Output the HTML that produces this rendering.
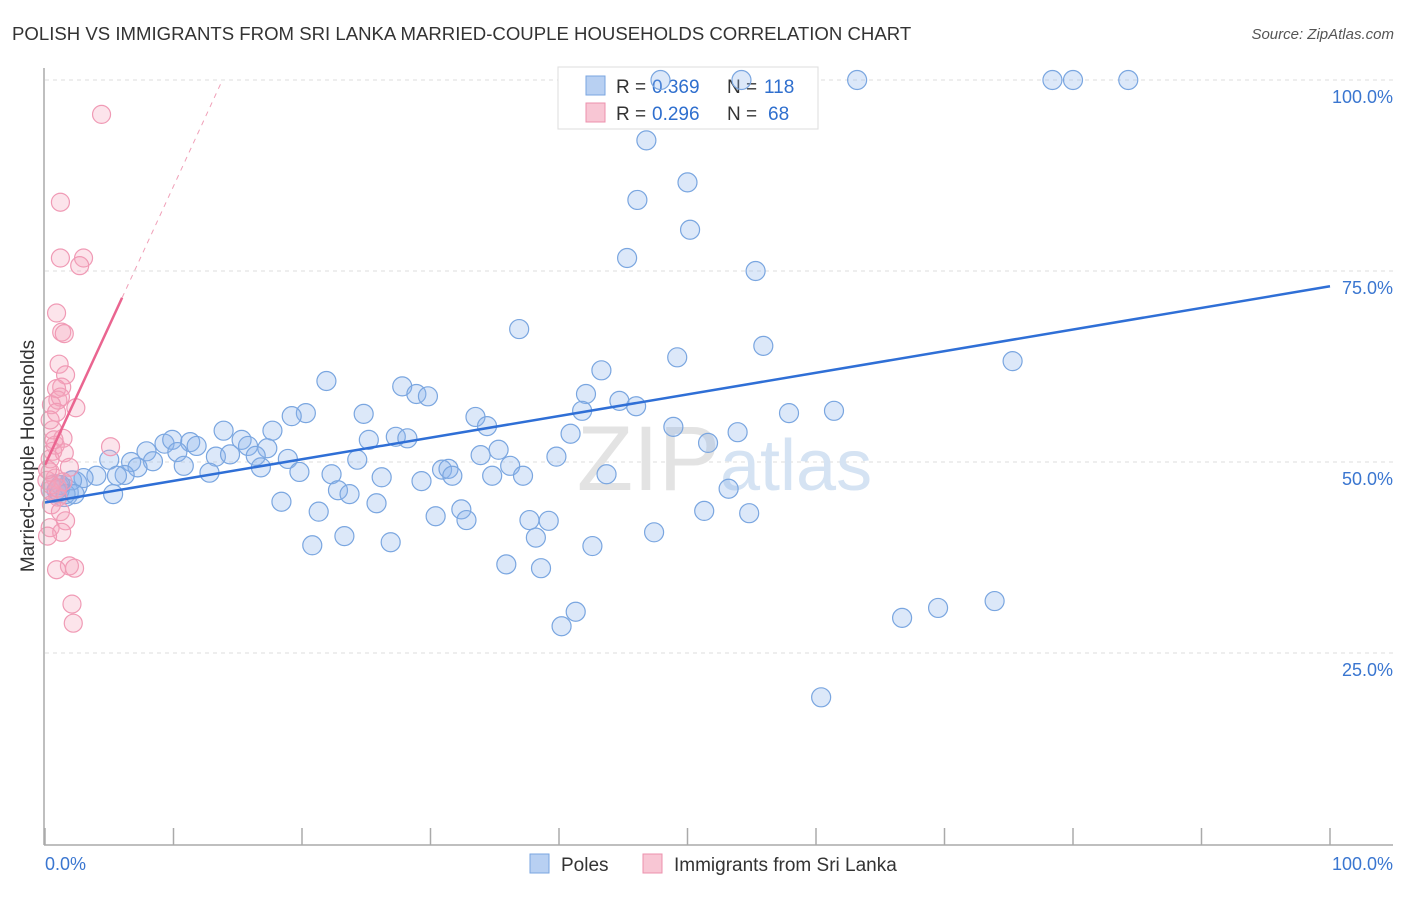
<!DOCTYPE html>
<html><head><meta charset="utf-8"><style>
body{margin:0;background:#fff;font-family:"Liberation Sans",sans-serif;}
svg text{font-family:"Liberation Sans",sans-serif;}
</style></head><body>
<svg id="chart" width="1406" height="892">
<text x="12" y="40" font-size="18.6" fill="#333">POLISH VS IMMIGRANTS FROM SRI LANKA MARRIED-COUPLE HOUSEHOLDS CORRELATION CHART</text>
<text x="1394" y="39" font-size="15" fill="#555" font-style="italic" text-anchor="end">Source: ZipAtlas.com</text>
<text transform="translate(34,456) rotate(-90)" font-size="19" fill="#333" text-anchor="middle">Married-couple Households</text>
<g id="grid"></g>
<text x="720" y="490" font-size="92" fill="#e3e3e3" text-anchor="end" font-family="Liberation Serif">ZIP</text>
<text x="720" y="490" font-size="72" fill="#d5e3f3">atlas</text>
<g>
<rect x="558" y="67" width="260" height="62" fill="#fff" stroke="#ddd"/>
<rect x="586" y="76" width="19" height="19" fill="#b8d0f2" stroke="#7aa6e0"/>
<text x="616" y="93" font-size="19" fill="#333">R =</text>
<text x="652" y="93" font-size="19" fill="#2f6fce">0.369</text>
<text x="727" y="93" font-size="19" fill="#333">N =</text>
<text x="764" y="93" font-size="19" fill="#2f6fce">118</text>
<rect x="586" y="103" width="19" height="19" fill="#f8c6d4" stroke="#ec90ad"/>
<text x="616" y="120" font-size="19" fill="#333">R =</text>
<text x="652" y="120" font-size="19" fill="#2f6fce">0.296</text>
<text x="727" y="120" font-size="19" fill="#333">N =</text>
<text x="768" y="120" font-size="19" fill="#2f6fce">68</text>
</g>
<g id="marks"></g>
<g id="axes"></g>
<g>
<rect x="530" y="854" width="19" height="19" fill="#b8d0f2" stroke="#7aa6e0"/>
<text x="561" y="871" font-size="19" fill="#333">Poles</text>
<rect x="643" y="854" width="19" height="19" fill="#f8c6d4" stroke="#ec90ad"/>
<text x="674" y="871" font-size="19" fill="#333">Immigrants from Sri Lanka</text>
</g>
</svg>
<script>
const yTicks=[25,50,75,100];
const yTickLabels=["25.0%","50.0%","75.0%","100.0%"];
const xTicks=[0,10,20,30,40,50,60,70,80,90,100];
const bx=[47.9,54.2,63.2,78.4,80.0,84.3,46.8,50.0,46.1,50.2,45.3,55.3,36.9,55.9,49.2,75.3,43.3,21.9,27.8,28.9,29.8,42.1,44.7,46.0,41.8,57.9,61.4,20.3,19.2,24.8,33.5,34.4,48.9,13.9,17.7,40.9,53.9,25.2,27.3,28.2,11.3,9.3,9.9,11.8,15.3,15.8,17.3,51.6,7.9,10.3,13.3,14.4,16.4,18.9,24.3,33.9,35.3,39.8,36.2,6.7,10.8,5.0,8.4,7.2,16.8,30.9,31.4,31.7,34.8,37.2,43.7,19.8,22.3,26.2,29.3,12.8,6.2,5.6,4.0,3.0,2.1,1.2,0.9,1.6,2.3,5.3,22.8,23.7,53.2,18.4,25.8,32.4,21.3,30.4,32.8,37.7,39.2,51.3,54.8,38.2,23.3,47.4,20.8,26.9,42.6,35.9,38.6,41.3,40.2,66.7,69.5,73.9,60.4];
const by=[100,100,100,100,100,100,92.1,86.6,84.3,80.4,76.7,75.0,67.4,65.2,63.7,63.2,62.0,60.6,59.9,58.9,58.6,58.9,58.0,57.3,56.7,56.4,56.7,56.4,56.0,56.3,55.9,54.7,54.6,54.1,54.1,53.7,53.9,52.9,53.3,53.1,52.6,52.4,52.9,52.1,52.9,52.1,51.8,52.5,51.4,51.3,50.7,51.0,50.8,50.4,50.3,50.9,51.6,50.7,49.5,50.0,49.5,50.3,50.1,49.3,49.3,49.0,49.1,48.2,48.2,48.2,48.4,48.7,48.4,48.0,47.5,48.6,48.3,48.2,48.2,47.9,47.6,47.0,46.3,45.8,45.8,45.8,46.3,45.8,46.5,44.8,44.6,43.8,43.5,42.9,42.4,42.4,42.3,43.6,43.3,40.1,40.3,40.8,39.1,39.5,39.0,36.6,36.1,30.4,28.5,29.6,30.9,31.8,19.2];
const px=[4.4,1.2,1.2,3.0,2.7,0.9,1.3,1.5,1.1,1.6,1.3,0.9,1.0,1.2,0.5,2.4,0.9,0.6,1.4,0.8,5.1,0.6,1.5,0.4,1.9,0.4,0.8,1.4,0.4,1.0,0.5,1.2,1.6,0.4,1.3,0.2,1.9,0.9,2.3,2.1,2.2,0.15,0.5,1.0,0.2,0.7,0.4];
const py=[95.5,84.0,76.7,76.7,75.7,69.5,67.0,66.8,62.8,61.4,59.8,59.6,58.1,58.5,57.5,57.1,56.5,54.2,53.1,52.2,52.0,51.4,51.2,50.4,49.3,48.7,47.9,47.4,46.3,45.4,44.4,43.5,42.3,41.4,40.8,40.3,36.4,35.9,36.1,31.4,28.9,47.6,47.0,46.6,49.0,52.9,55.5];
const clusterX=[1.5,2.2,0.8];
const clusterY=[46.0,47.0,46.5];
const blueFit=[44.7,0.283];
const pinkFit=[49.6,3.65];
const X=v=>45+v*12.85, Y=v=>844-v*7.64;
const NS="http://www.w3.org/2000/svg";
function mk(tag,attrs,parent){const e=document.createElementNS(NS,tag);for(const k in attrs)e.setAttribute(k,attrs[k]);parent.appendChild(e);return e;}
const grid=document.getElementById('grid'),marks=document.getElementById('marks'),axes=document.getElementById('axes'),svg=document.getElementById('chart');
yTicks.forEach((t,i)=>{
 const l=mk('line',{x1:45,x2:1393,y1:Y(t),y2:Y(t),stroke:'#ddd','stroke-dasharray':'4,4'},grid);
 
 
 const tx=mk('text',{x:1393,y:Y(t)+23,'font-size':18,fill:'#3a76d0','text-anchor':'end'},svg);
 tx.textContent=yTickLabels[i];
 
 
});
for(let i=0;i<clusterX.length;i++){
 const c=mk('circle',{cx:X(clusterX[i]),cy:Y(clusterY[i]),r:14,fill:'rgba(140,180,235,0.3)',stroke:'#7aa6e0','stroke-width':1.2},marks);
 
 
}
for(let i=0;i<by.length;i++){
 const c=mk('circle',{cx:X(bx[i]),cy:Y(by[i]),r:9.5,fill:'rgba(140,180,235,0.3)',stroke:'#7aa6e0','stroke-width':1.2},marks);
 
 
}
for(let i=0;i<py.length;i++){
 const c=mk('circle',{cx:X(px[i]),cy:Y(py[i]),r:9,fill:'rgba(245,165,190,0.3)',stroke:'#f09ab5','stroke-width':1.2},marks);
 
 
}
const bl=mk('line',{x1:X(0),y1:Y(blueFit[0]),x2:X(100),y2:Y(blueFit[0]+blueFit[1]*100),stroke:'#2f6fd6','stroke-width':2.5},marks);


const pEnd=(100-pinkFit[0])/pinkFit[1];
const pl=mk('line',{x1:X(0),y1:Y(pinkFit[0]),x2:X(6),y2:Y(pinkFit[0]+pinkFit[1]*6),stroke:'#ea6590','stroke-width':2.5},marks);


const pd=mk('line',{x1:X(6),y1:Y(pinkFit[0]+pinkFit[1]*6),x2:X(pEnd),y2:Y(100),stroke:'#f0a0b8','stroke-width':1,'stroke-dasharray':'5,5'},marks);


const ya=mk('line',{x1:44,x2:44,y1:68,y2:845,stroke:'#aaa','stroke-width':1.5},axes);


const xa=mk('line',{x1:44,x2:1393,y1:845,y2:845,stroke:'#aaa','stroke-width':1.5},axes);


xTicks.forEach(t=>{
 const l=mk('line',{x1:X(t),x2:X(t),y1:828,y2:845,stroke:'#aaa','stroke-width':1.5},axes);
 
 
});
const x0=mk('text',{x:45,y:870,'font-size':18,fill:'#3a76d0'},svg);x0.textContent='0.0%';


const x1=mk('text',{x:1393,y:870,'font-size':18,fill:'#3a76d0','text-anchor':'end'},svg);x1.textContent='100.0%';


</script>
</body></html>
